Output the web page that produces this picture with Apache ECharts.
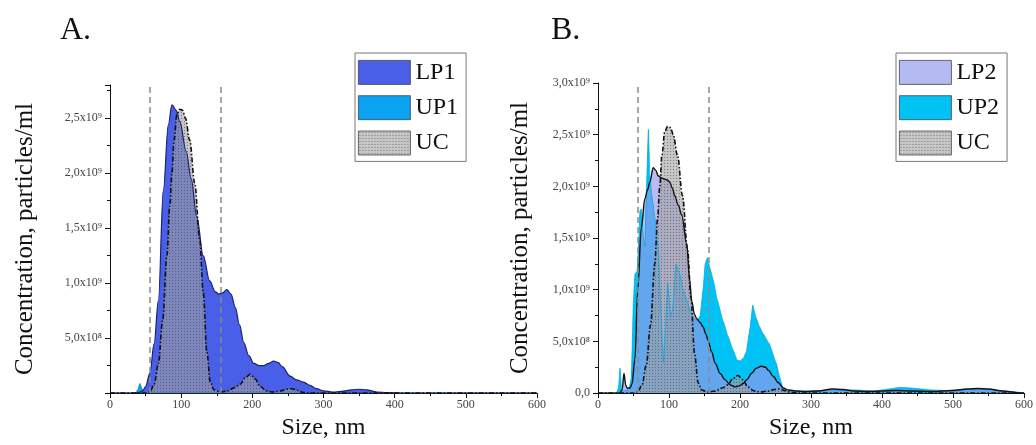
<!DOCTYPE html>
<html>
<head>
<meta charset="utf-8">
<script src="https://cdn.jsdelivr.net/npm/echarts@6/dist/echarts.min.js"></script>
<style>html,body{margin:0;padding:0;background:#fff}#c{width:1036px;height:445px}</style>
</head>
<body>
<div id="c"></div>
<script>
// Values: size in nm, concentration in 10^9 particles/ml
const lp1Size = [0, 30, 40, 46, 50, 56, 62, 68, 75, 82, 87, 93, 98, 107, 114, 122, 131, 140, 148, 153, 158, 164, 170, 176, 182, 188, 195, 202, 210, 216, 223, 230, 236, 242, 253, 262, 272, 281, 290, 300, 313, 325, 340, 350, 360, 375, 390, 410, 600];
const lp1Conc = [0, 0, 0.005, 0.02, 0.06, 0.18, 0.45, 0.84, 1.85, 2.44, 2.62, 2.57, 2.47, 2.2, 1.95, 1.6, 1.25, 1.02, 0.92, 0.9, 0.91, 0.94, 0.9, 0.78, 0.62, 0.46, 0.34, 0.27, 0.25, 0.25, 0.27, 0.29, 0.28, 0.24, 0.155, 0.12, 0.1, 0.07, 0.04, 0.02, 0.01, 0.015, 0.03, 0.035, 0.03, 0.01, 0.005, 0, 0];

const up1Size = [0, 36, 39, 42, 45, 48, 52, 600];
const up1Conc = [0, 0, 0.03, 0.087, 0.04, 0.01, 0, 0];

const ucSize = [0, 50, 56, 62, 68, 74, 80, 84, 87, 90, 94, 98, 102, 106, 112, 119, 126, 131, 136, 141, 146, 155, 165, 175, 183, 190, 197, 204, 211, 220, 229, 240, 248, 255, 263, 272, 285, 600];
const ucConc = [0, 0, 0.01, 0.08, 0.27, 0.66, 1.25, 1.7, 2.0, 2.3, 2.53, 2.58, 2.57, 2.5, 2.3, 1.91, 1.4, 0.92, 0.38, 0.1, 0.03, 0.01, 0.02, 0.05, 0.08, 0.14, 0.17, 0.13, 0.06, 0.02, 0.01, 0.02, 0.035, 0.04, 0.025, 0.005, 0, 0];

const up2Size = [0, 26, 29, 31, 33, 35, 40, 44, 47, 50, 52, 55, 57, 59, 61, 64, 66, 68, 71, 73, 76, 80, 85, 88, 92, 95, 98, 102, 105, 110, 115, 120, 125, 130, 135, 140, 144, 148, 151, 154, 158, 162, 168, 176, 183, 190, 196, 200, 205, 209, 214, 218, 222, 227, 232, 241, 251, 256, 260, 267, 280, 300, 330, 360, 390, 410, 425, 440, 455, 470, 490, 510, 530, 550, 570, 590, 600];
const up2Conc = [0, 0, 0.05, 0.24, 0.05, 0.02, 0.03, 0.05, 0.15, 0.9, 1.15, 1.18, 1.4, 1.76, 1.78, 1.5, 1.42, 1.9, 2.55, 2.1, 1.9, 1.7, 1.4, 0.9, 0.3, 0.6, 1.07, 0.75, 0.8, 1.25, 1.15, 1.0, 0.9, 0.8, 0.72, 0.7, 0.75, 1.0, 1.25, 1.31, 1.2, 1.1, 0.9, 0.7, 0.55, 0.42, 0.32, 0.31, 0.34, 0.4, 0.62, 0.85, 0.74, 0.65, 0.58, 0.48, 0.29, 0.15, 0.06, 0.02, 0.02, 0.02, 0.03, 0.03, 0.02, 0.04, 0.055, 0.05, 0.04, 0.03, 0.025, 0.03, 0.04, 0.035, 0.02, 0.01, 0];

const lp2Size = [0, 30, 34, 36.6, 39, 41, 45, 48, 52, 56, 61, 66, 70, 73, 77.7, 81, 85, 90, 94, 98, 101, 105, 108, 113, 118, 125, 129, 132, 136, 139, 144, 148, 152, 155, 160, 165, 172, 179, 186, 193, 199, 204, 210, 216, 223, 230, 236, 240, 247, 254, 261, 268, 280, 291, 310, 330, 345, 360, 380, 400, 420, 440, 470, 500, 520, 535, 550, 570, 590, 600];
const lp2Conc = [0, 0, 0.03, 0.19, 0.08, 0.05, 0.05, 0.09, 0.33, 1.0, 1.6, 1.88, 1.97, 2.04, 2.18, 2.16, 2.1, 2.08, 2.07, 2.06, 2.04, 1.98, 1.91, 1.82, 1.72, 1.44, 1.1, 0.89, 0.76, 0.72, 0.68, 0.64, 0.57, 0.51, 0.4, 0.29, 0.19, 0.13, 0.08, 0.06, 0.07, 0.09, 0.13, 0.19, 0.24, 0.26, 0.25, 0.22, 0.16, 0.1, 0.05, 0.03, 0.02, 0.016, 0.02, 0.04, 0.035, 0.02, 0.015, 0.02, 0.025, 0.02, 0.015, 0.025, 0.04, 0.045, 0.04, 0.02, 0.005, 0];

const gateLines = [56, 156];
const xTicks = [0, 600, 100];
const supDigits = {8: '\u2078', 9: '\u2079'};

function pairs(xs, ys) { return xs.map((x, i) => [x, ys[i]]); }

function makePattern() {
  const c = document.createElement('canvas');
  c.width = 3; c.height = 3;
  const g = c.getContext('2d');
  g.fillStyle = 'rgba(160,160,160,0.6)';
  g.fillRect(0, 0, 3, 3);
  g.fillStyle = 'rgba(70,70,70,0.6)';
  g.fillRect(1, 1, 1, 1);
  return c;
}
const ucPattern = { image: makePattern(), repeat: 'repeat' };

const FONT = 'Liberation Serif';

function yLabel(showZero) {
  return function (v) {
    if (v === 0) return showZero ? '0,0' : '';
    const raw = v * 1e9;
    const exp = Math.floor(Math.log10(raw) + 1e-9);
    const m = raw / Math.pow(10, exp);
    return m.toFixed(1).replace('.', ',') + 'x10' + supDigits[exp];
  };
}

function xAxisDef(gi) {
  return {
    type: 'value', gridIndex: gi, min: xTicks[0], max: xTicks[1], interval: xTicks[2],
    name: 'Size, nm', nameLocation: 'middle', nameGap: 22,
    nameTextStyle: { fontFamily: FONT, fontSize: 24, color: '#111' },
    axisLine: { lineStyle: { color: '#111', width: 1 } },
    axisTick: { show: true, inside: false, length: 5, lineStyle: { color: '#111' } },
    minorTick: { show: true, splitNumber: 2, length: 3, lineStyle: { color: '#111' } },
    splitLine: { show: false },
    axisLabel: { fontFamily: FONT, fontSize: 12, color: '#444', margin: 6 }
  };
}
function yAxisDef(gi, max, showZero, gap, showMax) {
  return {
    type: 'value', gridIndex: gi, min: 0, max: max, interval: 0.5,
    name: 'Concentration, particles/ml', nameLocation: 'middle', nameGap: gap, nameRotate: 90,
    nameTextStyle: { fontFamily: FONT, fontSize: 25, color: '#111' },
    axisLine: { show: true, lineStyle: { color: '#111', width: 1 } },
    axisTick: { show: true, inside: false, length: 5, lineStyle: { color: '#111' } },
    minorTick: { show: true, splitNumber: 2, length: 3, lineStyle: { color: '#111' } },
    splitLine: { show: false },
    axisLabel: { fontFamily: FONT, fontSize: 12, color: '#444', margin: 8, showMaxLabel: showMax, formatter: yLabel(showZero) }
  };
}

function gates(gi) {
  return {
    silent: true, symbol: 'none', label: { show: false },
    lineStyle: { color: '#8a8a8a', type: [6, 4], width: 1.5 },
    data: gateLines.map(v => ({ xAxis: v }))
  };
}

function areaSeries(name, gi, xs, ys, fill, opacity, line, smooth, extra) {
  return Object.assign({
    name: name, type: 'line', xAxisIndex: gi, yAxisIndex: gi,
    data: pairs(xs, ys), showSymbol: false, symbol: 'none',
    smooth: smooth, smoothMonotone: 'x',
    itemStyle: { color: typeof fill === 'string' ? fill : '#bbb' },
    lineStyle: line,
    areaStyle: { color: fill, opacity: opacity },
    animation: false
  }, extra || {});
}

function legendDef(left, names, fills) {
  return {
    orient: 'vertical', left: left, top: 53, selectedMode: false,
    icon: 'rect', itemWidth: 52, itemHeight: 24, itemGap: 10.5,
    padding: [7, 8, 6, 3],
    borderColor: '#777', borderWidth: 1, backgroundColor: '#fff',
    textStyle: { fontFamily: FONT, fontSize: 24, color: '#111', lineHeight: 24 },
    data: names.map((n, i) => ({ name: n, itemStyle: { color: fills[i], borderColor: '#444', borderWidth: 0.8 } }))
  };
}

const chart = echarts.init(document.getElementById('c'), null, { renderer: 'canvas' });
chart.setOption({
  animation: false,
  backgroundColor: '#fff',
  title: [
    { text: 'A.', left: 55, top: 10, textStyle: { fontFamily: FONT, fontSize: 32, fontWeight: 'normal', color: '#111' } },
    { text: 'B.', left: 546, top: 10, textStyle: { fontFamily: FONT, fontSize: 32, fontWeight: 'normal', color: '#111' } }
  ],
  grid: [
    { left: 110, top: 85, width: 427, height: 313 },
    { left: 598, top: 83, width: 427, height: 314 }
  ],
  xAxis: [xAxisDef(0), xAxisDef(1)],
  yAxis: [yAxisDef(0, 2.8, false, 72, false), yAxisDef(1, 3.0, true, 65, true)],
  legend: [
    legendDef(355, ['LP1', 'UP1', 'UC'], ['#4a5fe8', '#0aa3f2', ucPattern]),
    legendDef(896, ['LP2', 'UP2', 'UC'], ['#b4bbf3', '#00c2f4', ucPattern])
  ],
  series: [
    areaSeries('UP1', 0, up1Size, up1Conc, '#0aa3f2', 1, { color: '#0a78c0', width: 0.8 }, 0.3),
    areaSeries('LP1', 0, lp1Size, lp1Conc, '#4a5fe8', 1, { color: '#1b2266', width: 1.2 }, 0.35),
    areaSeries('UC', 0, ucSize, ucConc, ucPattern, 1, { color: '#111', width: 1.6, type: [5, 2, 1.5, 2] }, 0.35, { markLine: gates(0) }),
    areaSeries('UP2', 1, up2Size, up2Conc, '#00c2f4', 1, { color: '#00a8e0', width: 0.8 }, 0.1),
    areaSeries('LP2', 1, lp2Size, lp2Conc, 'rgb(150,150,236)', 0.65, { color: '#111', width: 1.4 }, 0.35),
    areaSeries('UC', 1, ucSize, ucConc, ucPattern, 1, { color: '#111', width: 1.6, type: [5, 2, 1.5, 2] }, 0.35, { markLine: gates(1) })
  ]
});
</script>
</body>
</html>
